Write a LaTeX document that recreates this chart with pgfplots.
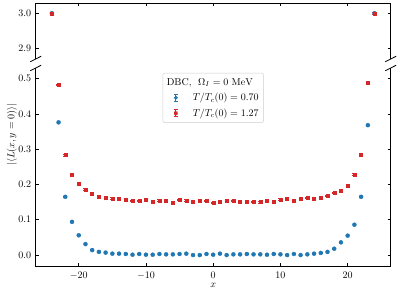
\documentclass[border=0pt]{standalone}
\usepackage{pgfplots}
\usepackage{pgfplotstable}
\pgfplotsset{compat=1.18}
\definecolor{tabblue}{RGB}{31,119,180}
\definecolor{tabred}{RGB}{214,39,40}

\pgfplotstableread{
x b be r re
-24 3.000 0.001 3.000 0.002
-23 0.376 0.001 0.482 0.002
-22 0.165 0.001 0.283 0.002
-21 0.094 0.001 0.229 0.002
-20 0.056 0.001 0.201 0.002
-19 0.031 0.001 0.186 0.002
-18 0.014 0.001 0.175 0.002
-17 0.009 0.001 0.166 0.002
-16 0.007 0.001 0.163 0.002
-15 0.004 0.001 0.161 0.002
-14 0.004 0.001 0.160 0.002
-13 0.003 0.001 0.158 0.002
-12 0.001 0.001 0.153 0.002
-11 0.003 0.001 0.153 0.002
-10 0.001 0.001 0.157 0.002
-9 0.001 0.001 0.152 0.002
-8 0.003 0.001 0.155 0.002
-7 0.002 0.001 0.153 0.002
-6 0.002 0.001 0.149 0.002
-5 0.003 0.001 0.156 0.002
-4 0.004 0.001 0.155 0.002
-3 0.000 0.001 0.150 0.002
-2 0.000 0.001 0.154 0.002
-1 0.003 0.001 0.154 0.002
0 0.001 0.001 0.148 0.002
1 0.004 0.001 0.152 0.002
2 0.000 0.001 0.153 0.002
3 0.002 0.001 0.153 0.002
4 0.002 0.001 0.152 0.002
5 0.003 0.001 0.150 0.002
6 0.002 0.001 0.151 0.002
7 0.002 0.001 0.150 0.002
8 0.001 0.001 0.153 0.002
9 0.003 0.001 0.150 0.002
10 0.002 0.001 0.158 0.002
11 0.000 0.001 0.160 0.002
12 0.003 0.001 0.155 0.002
13 0.000 0.001 0.159 0.002
14 0.002 0.001 0.163 0.002
15 0.004 0.001 0.161 0.002
16 0.006 0.001 0.163 0.002
17 0.009 0.001 0.168 0.002
18 0.018 0.001 0.177 0.002
19 0.036 0.001 0.183 0.002
20 0.055 0.001 0.197 0.002
21 0.086 0.001 0.229 0.002
22 0.165 0.001 0.284 0.002
23 0.368 0.001 0.489 0.002
24 3.000 0.001 3.000 0.002
}\data

\begin{document}
\begin{tikzpicture}
\path[use as bounding box] (-35.7pt,-33pt) rectangle (363.3pt,266pt);
\pgfplotsset{
  common/.style={
    scale only axis, width=355pt,
    xmin=-26.4, xmax=26.4,
    tick align=inside,
    major tick length=3pt,
    tick style={line width=0.6pt, black},
    axis line style={draw=none},
    xtick={-20,-10,0,10,20},
    ytick pos=both,
    xticklabel style={yshift=-2.5pt},
    yticklabel style={xshift=-1pt, /pgf/number format/.cd, fixed, fixed zerofill, precision=1},
    unbounded coords=discard,
  },
  bluestyle/.style={only marks, mark=*, mark size=2.0pt, color=tabblue,
    error bars/.cd, y dir=both, y explicit,
    error bar style={line width=0.6pt},
    error mark options={rotate=90, mark size=1.8pt, line width=0.6pt}},
  redstyle/.style={only marks, mark=square*, mark size=1.5pt, color=tabred,
    error bars/.cd, y dir=both, y explicit,
    error bar style={line width=0.6pt},
    error mark options={rotate=90, mark size=2.1pt, line width=0.6pt}},
}
% lower panel
\begin{axis}[common, name=low, at={(0pt,0pt)}, anchor=south west,
  height=198pt, ymin=-0.031, ymax=0.530,
  ytick={0,0.1,0.2,0.3,0.4,0.5},
  xtick pos=bottom,
  restrict y to domain=-1:1,
  xlabel={$x$},
  every axis x label/.style={at={(axis description cs:0.5,0)}, anchor=center, yshift=-19pt},
  legend cell align=left,
  legend style={at={(0.5,0.975)}, anchor=north, draw=black!20, rounded corners=2pt,
    fill=white, inner xsep=3pt, inner ysep=3pt, row sep=2.5pt},
]
\addlegendimage{empty legend}
\addlegendentry{\hspace{-26pt}DBC,\ \ $\Omega_I = 0\ \mathrm{MeV}$}
\addplot[legend image code/.code={
  \path[draw=none, fill=none] (0pt,0pt) -- (25pt,0pt);
  \draw[tabblue, line width=0.8pt] (10pt,-3.5pt) -- (10pt,3.5pt);
  \draw[tabblue, line width=0.8pt] (8pt,-3.5pt) -- (12pt,-3.5pt);
  \draw[tabblue, line width=0.8pt] (8pt,3.5pt) -- (12pt,3.5pt);
  \fill[tabblue] (10pt,0pt) circle (1.7pt);}, bluestyle]
  table[x=x, y=b, y error=be] {\data};
\addlegendentry{$T/T_c(0) = 0.70$}
\addplot[legend image code/.code={
  \path[draw=none, fill=none] (0pt,0pt) -- (25pt,0pt);
  \draw[tabred, line width=0.8pt] (10pt,-3.5pt) -- (10pt,3.5pt);
  \draw[tabred, line width=0.8pt] (8pt,-3.5pt) -- (12pt,-3.5pt);
  \draw[tabred, line width=0.8pt] (8pt,3.5pt) -- (12pt,3.5pt);
  \fill[tabred] (8.5pt,-1.5pt) rectangle (11.5pt,1.5pt);}, redstyle]
  table[x=x, y=r, y error=re] {\data};
\addlegendentry{$T/T_c(0) = 1.27$}
\end{axis}
% upper panel
\begin{axis}[common, name=up, at={(0pt,207pt)}, anchor=south west,
  height=55.7pt, ymin=2.871, ymax=3.028,
  ytick={2.9,3.0},
  xtick pos=top, xticklabels={},
  restrict y to domain=2:4,
]
\addplot[bluestyle] table[x=x, y=b, y error=be] {\data};
\addplot[redstyle] table[x=x, y=r, y error=re] {\data};
\end{axis}
% spines
\draw[line width=0.8pt, black] (0pt,198pt) -- (0pt,0pt) -- (355pt,0pt) -- (355pt,198pt);
\draw[line width=0.8pt, black] (0pt,207pt) -- (0pt,262.7pt) -- (355pt,262.7pt) -- (355pt,207pt);
% break marks
\foreach \xx in {0,355} {
  \foreach \yy in {198,207} {
    \draw[line width=0.8pt, black] (\xx pt-5.5pt,\yy pt-2.8pt) -- (\xx pt+5.5pt,\yy pt+2.8pt);
  }
}
\node[rotate=90] at (-23.7pt,131.3pt) {$|\langle L(x,y=0)\rangle|$};
\end{tikzpicture}
\end{document}
